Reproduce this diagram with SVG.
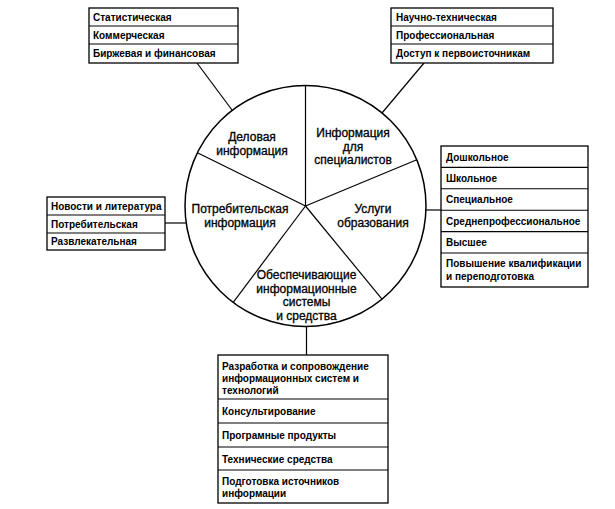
<svg xmlns="http://www.w3.org/2000/svg" width="615" height="509" viewBox="0 0 615 509">
<style>
  .bg{fill:#ffffff}
  .box{fill:#ffffff;stroke:#000;stroke-width:1.3}
  .div{stroke:#000;stroke-width:1.1}
  .ln{stroke:#000;stroke-width:1.2;fill:none}
  .t{font-family:"Liberation Sans",Arial,sans-serif;font-size:10px;font-weight:bold;fill:#000}
  .c{font-family:"Liberation Sans",Arial,sans-serif;font-size:12px;fill:#000;stroke:#000;stroke-width:0.3;text-anchor:middle}
</style>
<rect class="bg" x="0" y="0" width="615" height="509"/>

<g id="connectors">
  <line class="ln" x1="197" y1="63" x2="232" y2="110"/>
  <line class="ln" x1="424" y1="63" x2="382" y2="113"/>
  <line class="ln" x1="426" y1="210" x2="441" y2="210"/>
  <line class="ln" x1="165" y1="223" x2="186" y2="223"/>
  <line class="ln" x1="306.5" y1="326" x2="306.5" y2="355"/>
</g>

<g id="circle">
  <circle cx="305.5" cy="206" r="120.5" fill="#fff" stroke="#000" stroke-width="1.5"/>
  <line class="ln" x1="305.5" y1="206" x2="305.5" y2="85.5"/>
  <line class="ln" x1="305.5" y1="206" x2="197.4" y2="152.8"/>
  <line class="ln" x1="305.5" y1="206" x2="416.8" y2="159.7"/>
  <line class="ln" x1="305.5" y1="206" x2="233.2" y2="302.4"/>
  <line class="ln" x1="305.5" y1="206" x2="382" y2="299.1"/>
</g>

<g id="sector-business">
  <text class="c" x="252" y="141">Деловая</text>
  <text class="c" x="252" y="155">информация</text>
</g>
<g id="sector-specialists">
  <text class="c" x="353" y="137">Информация</text>
  <text class="c" x="353" y="150.5">для</text>
  <text class="c" x="353" y="164">специалистов</text>
</g>
<g id="sector-consumer">
  <text class="c" x="240" y="213">Потребительская</text>
  <text class="c" x="240" y="226.5">информация</text>
</g>
<g id="sector-education">
  <text class="c" x="373" y="213">Услуги</text>
  <text class="c" x="373" y="226.5">образования</text>
</g>
<g id="sector-systems">
  <text class="c" x="306.5" y="279">Обеспечивающие</text>
  <text class="c" x="306.5" y="292.5">информационные</text>
  <text class="c" x="306.5" y="306">системы</text>
  <text class="c" x="306.5" y="319.5">и средства</text>
</g>

<g id="box-business">
  <rect class="box" x="89" y="8" width="149" height="55"/>
  <line class="div" x1="89" y1="26" x2="238" y2="26"/>
  <line class="div" x1="89" y1="44" x2="238" y2="44"/>
  <text class="t" x="93" y="20.5">Статистическая</text>
  <text class="t" x="93" y="38.5">Коммерческая</text>
  <text class="t" x="93" y="57">Биржевая и финансовая</text>
</g>

<g id="box-specialists">
  <rect class="box" x="391" y="8" width="162" height="55"/>
  <line class="div" x1="391" y1="26" x2="553" y2="26"/>
  <line class="div" x1="391" y1="44" x2="553" y2="44"/>
  <text class="t" x="396" y="20.5">Научно-техническая</text>
  <text class="t" x="396" y="38.5">Профессиональная</text>
  <text class="t" x="396" y="57">Доступ к первоисточникам</text>
</g>

<g id="box-education">
  <rect class="box" x="441" y="146" width="147" height="141"/>
  <line class="div" x1="441" y1="167.4" x2="588" y2="167.4"/>
  <line class="div" x1="441" y1="188.8" x2="588" y2="188.8"/>
  <line class="div" x1="441" y1="210.2" x2="588" y2="210.2"/>
  <line class="div" x1="441" y1="231.6" x2="588" y2="231.6"/>
  <line class="div" x1="441" y1="253" x2="588" y2="253"/>
  <text class="t" x="446" y="160.5">Дошкольное</text>
  <text class="t" x="446" y="181.5">Школьное</text>
  <text class="t" x="446" y="203">Специальное</text>
  <text class="t" x="446" y="224.5">Среднепрофессиональное</text>
  <text class="t" x="446" y="245.5">Высшее</text>
  <text class="t" x="446" y="266.5">Повышение квалификации</text>
  <text class="t" x="446" y="279.5">и переподготовка</text>
</g>

<g id="box-consumer">
  <rect class="box" x="47" y="197" width="118" height="53"/>
  <line class="div" x1="47" y1="215" x2="165" y2="215"/>
  <line class="div" x1="47" y1="233" x2="165" y2="233"/>
  <text class="t" x="51" y="209.5">Новости и литература</text>
  <text class="t" x="51" y="227.5">Потребительская</text>
  <text class="t" x="51" y="245">Развлекательная</text>
</g>

<g id="box-systems">
  <rect class="box" x="218" y="355" width="170" height="148"/>
  <line class="div" x1="218" y1="399" x2="388" y2="399"/>
  <line class="div" x1="218" y1="423" x2="388" y2="423"/>
  <line class="div" x1="218" y1="447" x2="388" y2="447"/>
  <line class="div" x1="218" y1="470" x2="388" y2="470"/>
  <text class="t" x="222" y="369.5">Разработка и сопровождение</text>
  <text class="t" x="222" y="381.5">информационных систем и</text>
  <text class="t" x="222" y="393.5">технологий</text>
  <text class="t" x="222" y="414.5">Консультирование</text>
  <text class="t" x="222" y="438.5">Програмные продукты</text>
  <text class="t" x="222" y="462.5">Технические средства</text>
  <text class="t" x="222" y="484.5">Подготовка источников</text>
  <text class="t" x="222" y="496.5">информации</text>
</g>
</svg>
